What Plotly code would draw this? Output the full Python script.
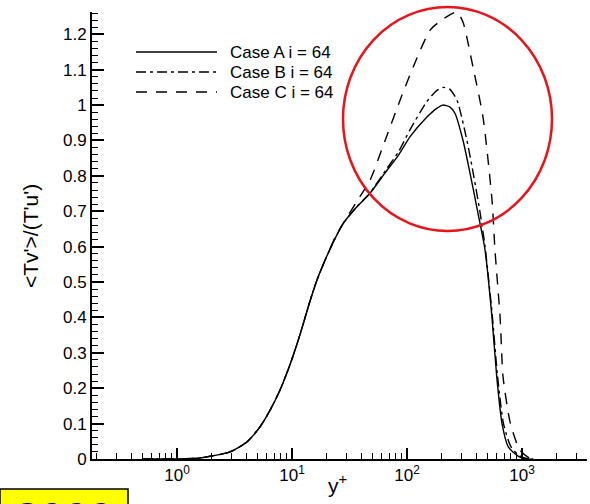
import plotly.graph_objects as go

# ---- data ----
yplus_A = [0.5, 1.0, 1.58, 2.89, 4.05, 5.25, 6.45, 7.87, 9.6, 11.7, 14.3, 16.5, 19.4, 23.6, 27.8, 36,
           47.7, 65, 85, 106, 149, 180, 205, 235, 261, 307, 353, 414, 477, 548, 603, 670, 760, 923, 1100, 1250]
tv_A = [0.0, 0.0, 0.003, 0.02, 0.048, 0.09, 0.138, 0.195, 0.266, 0.35, 0.445, 0.506, 0.562, 0.622, 0.665, 0.71,
        0.751, 0.81, 0.86, 0.91, 0.966, 0.99, 1.0, 0.995, 0.977, 0.90, 0.808, 0.695, 0.59, 0.40, 0.232, 0.10, 0.034, 0.008, 0.0, 0.0]

yplus_B = [0.5, 1.0, 1.58, 2.89, 4.05, 5.25, 6.45, 7.87, 9.6, 11.7, 14.3, 16.5, 19.4, 23.6, 27.8, 36,
           47.7, 65, 85, 106, 149, 180, 205, 235, 272, 332, 380, 430, 477, 550, 610, 690, 800, 960, 1150, 1250]
tv_B = [0.0, 0.0, 0.003, 0.02, 0.048, 0.09, 0.138, 0.195, 0.266, 0.35, 0.445, 0.506, 0.562, 0.622, 0.665, 0.71,
        0.752, 0.815, 0.87, 0.93, 1.01, 1.04, 1.05, 1.045, 1.014, 0.90, 0.80, 0.70, 0.60, 0.41, 0.24, 0.10, 0.035, 0.008, 0.0, 0.0]

yplus_C = [0.5, 1.0, 1.58, 2.89, 4.05, 5.25, 6.45, 7.87, 9.6, 11.7, 14.3, 16.5, 19.4, 24, 29, 36,
           47.7, 64.5, 87, 113, 159, 210, 272, 307, 375, 458, 549, 582, 645, 684, 793, 960, 1200, 1300]
tv_C = [0.0, 0.0, 0.003, 0.02, 0.048, 0.09, 0.138, 0.195, 0.266, 0.35, 0.445, 0.506, 0.562, 0.63, 0.675, 0.724,
        0.788, 0.90, 1.014, 1.107, 1.212, 1.245, 1.263, 1.234, 1.107, 0.966, 0.73, 0.59, 0.40, 0.232, 0.10, 0.025, 0.0, 0.0]

case_names = ["Case A i = 64", "Case B i = 64", "Case C i = 64"]

x_major = [1, 10, 100, 1000]
x_major_text = ["10<sup>0</sup>", "10<sup>1</sup>", "10<sup>2</sup>", "10<sup>3</sup>"]
x_minor = [m * d for d in [0.1, 1, 10, 100, 1000] for m in range(2, 10) if 0.18 < m * d < 3700]

y_major = [0, 0.1, 0.2, 0.3, 0.4, 0.5, 0.6, 0.7, 0.8, 0.9, 1.0, 1.1, 1.2]
y_major_text = ["0", "0.1", "0.2", "0.3", "0.4", "0.5", "0.6", "0.7", "0.8", "0.9", "1", "1.1", "1.2"]

# ---- layout geometry (pixels) ----
W, H = 590, 504
L, R, T, B = 92, 3, 12, 45
PW, PH = W - L - R, H - T - B

def px(x):
    return (x - L) / PW

def py(y):
    return (H - B - y) / PH

FONT = "Liberation Sans, Arial, Helvetica, sans-serif"
dashes = ["solid", "10px,4px,3px,4px", "11px,9px"]

fig = go.Figure()
for xs, ys, d, name in [(yplus_A, tv_A, dashes[0], case_names[0]),
                        (yplus_B, tv_B, dashes[1], case_names[1]),
                        (yplus_C, tv_C, dashes[2], case_names[2])]:
    fig.add_trace(go.Scatter(x=xs, y=ys, mode="lines", name=name,
                             line=dict(color="black", width=1.4, dash=d, shape="spline", smoothing=0.6),
                             showlegend=False))

shapes = []
annotations = []
# manual legend
for i, (d, name) in enumerate(zip(dashes, case_names)):
    yy = 52 + 20 * i
    shapes.append(dict(type="line", xref="paper", yref="paper",
                       x0=px(136), x1=px(217), y0=py(yy), y1=py(yy),
                       line=dict(color="black", width=1.3, dash=d)))
    annotations.append(dict(xref="paper", yref="paper", x=px(228), y=py(yy),
                            xanchor="left", yanchor="middle", showarrow=False,
                            text=name, font=dict(family=FONT, size=17, color="black")))

# red circle highlight
shapes.append(dict(type="circle", xref="paper", yref="paper",
                   x0=px(343), x1=px(552), y0=py(231), y1=py(7),
                   line=dict(color="#e8141b", width=2.5)))

# yellow box at bottom-left (partly cut off)
shapes.append(dict(type="rect", xref="paper", yref="paper",
                   x0=px(0), x1=px(128), y0=py(540), y1=py(489),
                   fillcolor="#ffff00", line=dict(color="black", width=1.5)))
annotations.append(dict(xref="paper", yref="paper", x=px(64), y=py(493),
                        xanchor="center", yanchor="top", showarrow=False, borderpad=0,
                        text="<b>2000</b>", font=dict(family=FONT, size=44, color="black")))

# axis titles
annotations.append(dict(xref="paper", yref="paper", x=px(30), y=py(236),
                        xanchor="center", yanchor="middle", showarrow=False, textangle=-90,
                        text="&lt;Tv'&gt;/(T'u')", font=dict(family=FONT, size=21, color="black")))
annotations.append(dict(xref="paper", yref="paper", x=px(337), y=py(484),
                        xanchor="center", yanchor="middle", showarrow=False,
                        text="y<sup>+</sup>", font=dict(family=FONT, size=21, color="black")))

fig.update_layout(
    width=W, height=H,
    margin=dict(l=L, r=R, t=T, b=B),
    paper_bgcolor="white", plot_bgcolor="white",
    font=dict(family=FONT, size=17, color="black"),
    shapes=shapes, annotations=annotations,
    xaxis=dict(type="log", range=[-0.739, 3.565], showgrid=False, zeroline=False,
               showline=True, linecolor="black", linewidth=2,
               tickmode="array", tickvals=x_major, ticktext=x_major_text,
               ticks="inside", ticklen=11, tickwidth=1.5, tickcolor="black",
               tickfont=dict(family=FONT, size=17, color="black"),
               minor=dict(tickvals=x_minor, ticks="inside", ticklen=6, tickwidth=1, tickcolor="black", showgrid=False)),
    yaxis=dict(range=[0, 1.263], showgrid=False, zeroline=False,
               showline=True, linecolor="black", linewidth=2,
               tickmode="array", tickvals=y_major, ticktext=y_major_text,
               ticks="inside", ticklen=12, tickwidth=1.5, tickcolor="black",
               tickfont=dict(family=FONT, size=17, color="black"),
               minor=dict(dtick=0.02, tick0=0, ticks="inside", ticklen=6, tickwidth=1, tickcolor="black", showgrid=False)),
)

fig.write_html("out.html")
